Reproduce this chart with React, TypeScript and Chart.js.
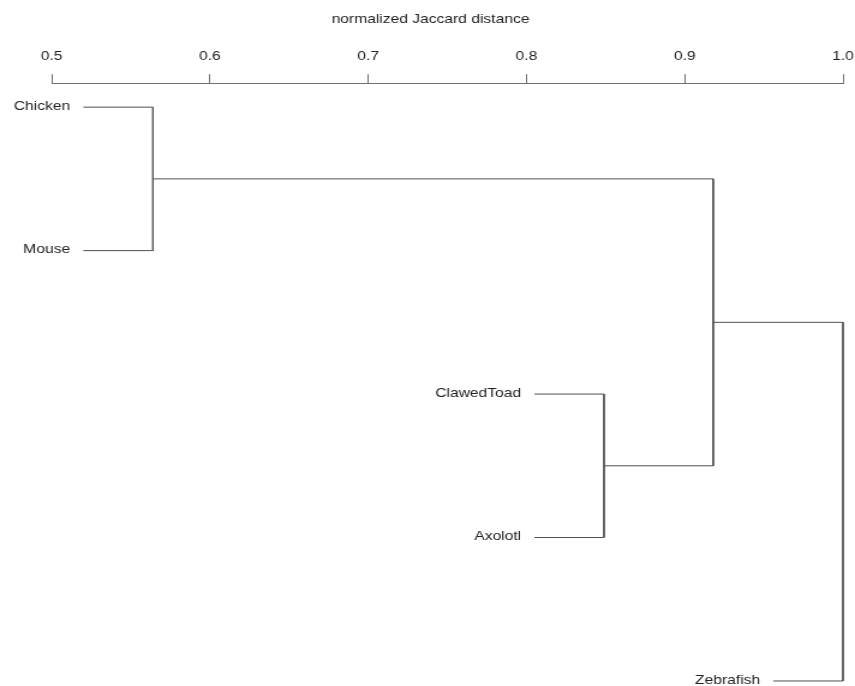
import React, { useEffect, useRef } from "react";
import { Chart, registerables } from "chart.js";

Chart.register(...registerables);

// ---- data ----
const leafLabels = ["Chicken", "Mouse", "ClawedToad", "Axolotl", "Zebrafish"];
// R hclust style merge table: negative = leaf (1-based), positive = earlier merge
const mergeLeft = [-1, -3, 1, 3];
const mergeRight = [-2, -4, 2, -5];
const mergeHeights = [0.564, 0.849, 0.918, 1.0];
const hang = 0.044;
const tickValues = [0.5, 0.6, 0.7, 0.8, 0.9, 1.0];
const tickLabels = ["0.5", "0.6", "0.7", "0.8", "0.9", "1.0"];
const axisTitle = "normalized Jaccard distance";

const FONT = '"Liberation Sans", Arial, sans-serif';
const LINE_COLOR = "#505050";

// internal canvas is narrower and stretched horizontally, like the reference
const CANVAS_W = 712;
const CANVAS_H = 686;

type Node = { x: number; y: number };

function buildSegments() {
  const nodes: Node[] = [];
  const leafStart: number[] = new Array(leafLabels.length).fill(0);
  const segs: { x: number; y: number }[][] = [];
  const childPos = (id: number, h: number): Node => {
    if (id < 0) {
      const i = -id - 1;
      leafStart[i] = h - hang;
      return { x: h - hang, y: i + 1 };
    }
    return nodes[id - 1];
  };
  for (let m = 0; m < mergeHeights.length; m++) {
    const h = mergeHeights[m];
    const a = childPos(mergeLeft[m], h);
    const b = childPos(mergeRight[m], h);
    segs.push([
      { x: a.x, y: a.y },
      { x: h, y: a.y },
      { x: h, y: b.y },
      { x: b.x, y: b.y },
    ]);
    nodes.push({ x: h, y: (a.y + b.y) / 2 });
  }
  return { segs, leafStart };
}

export default function App() {
  const ref = useRef<HTMLCanvasElement | null>(null);

  useEffect(() => {
    document.body.style.margin = "0";
    const canvas = ref.current;
    if (!canvas) return;
    const { segs, leafStart } = buildSegments();

    const labelPlugin = {
      id: "leafLabels",
      afterDatasetsDraw(chart: any) {
        const { ctx, scales, chartArea } = chart;
        const xs = scales.x;
        const ys = scales.y;
        ctx.save();
        ctx.font = `13px ${FONT}`;
        ctx.fillStyle = "#222";
        ctx.textAlign = "right";
        ctx.textBaseline = "middle";
        leafLabels.forEach((lab, i) => {
          const px = xs.getPixelForValue(leafStart[i]) - 11;
          const py = ys.getPixelForValue(i + 1) - 1;
          ctx.fillText(lab, px, py);
        });
        // axis title, set slightly left of the axis centre as in the reference
        ctx.textAlign = "center";
        ctx.fillText(axisTitle, (chartArea.left + chartArea.right) / 2 - 14, 19);
        ctx.restore();
      },
    };

    const chart = new Chart(canvas, {
      type: "scatter",
      data: {
        datasets: segs.map((s) => ({
          data: s,
          showLine: true,
          borderColor: LINE_COLOR,
          borderWidth: 1,
          pointRadius: 0,
          pointHoverRadius: 0,
          tension: 0,
          fill: false,
          clip: false as any,
        })),
      },
      options: {
        responsive: false,
        animation: false,
        devicePixelRatio: 1,
        layout: { padding: { top: 0, left: 43, right: 10, bottom: 0 } },
        plugins: {
          legend: { display: false },
          tooltip: { enabled: false },
          title: { display: false },
        },
        scales: {
          x: {
            type: "linear",
            position: "top",
            min: 0.5,
            max: 1.0,
            afterBuildTicks: (scale: any) => {
              scale.ticks = tickValues.map((v) => ({ value: v }));
            },
            afterFit: (scale: any) => {
              scale.paddingLeft = 0;
              scale.paddingRight = 0;
            },
            ticks: {
              padding: 10,
              color: "#222",
              font: { family: FONT, size: 13 },
              maxRotation: 0,
              callback: (v: any) => {
                const i = tickValues.findIndex((t) => Math.abs(t - Number(v)) < 1e-9);
                return i >= 0 ? tickLabels[i] : "";
              },
            },
            grid: {
              display: true,
              drawOnChartArea: false,
              drawTicks: true,
              tickLength: 9,
              color: "#707070",
              lineWidth: 1,
            },
            border: { display: true, color: "#707070", width: 1 },
            title: {
              // reserves the space; the text itself is drawn by the plugin
              display: true,
              text: axisTitle,
              color: "rgba(0,0,0,0)",
              font: { family: FONT, size: 13 },
              padding: { top: 12, bottom: 11 },
            },
          },
          y: {
            type: "linear",
            display: false,
            reverse: true,
            min: 0.833,
            max: 5.035,
          },
        },
      },
      plugins: [labelPlugin],
    });

    return () => chart.destroy();
  }, []);

  return (
    <canvas
      ref={ref}
      width={CANVAS_W}
      height={CANVAS_H}
      style={{ display: "block", width: "855px", height: "686px" }}
    />
  );
}
